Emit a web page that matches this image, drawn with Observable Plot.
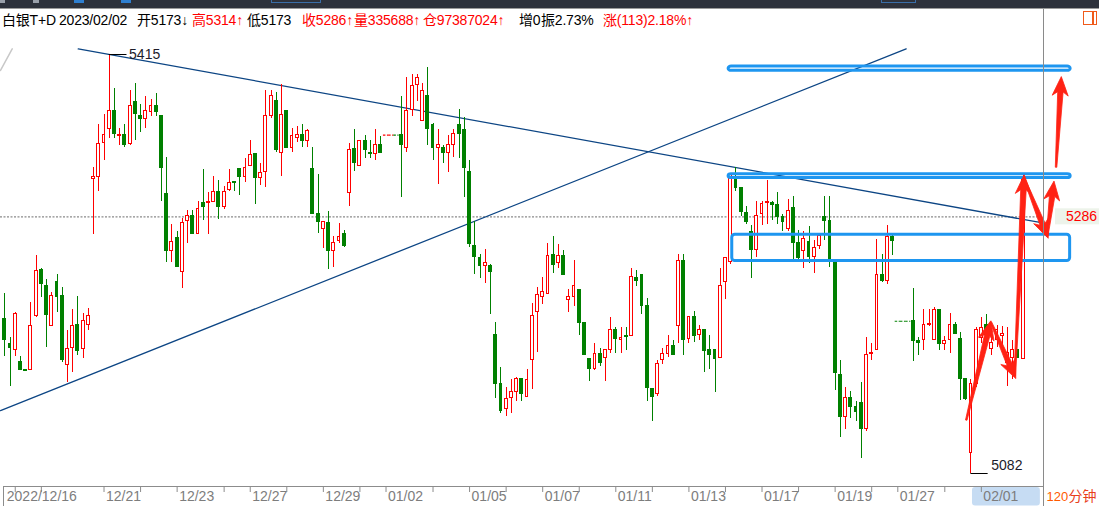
<!DOCTYPE html>
<html><head><meta charset="utf-8">
<script src="https://cdn.jsdelivr.net/npm/d3@7"></script>
<script src="https://cdn.jsdelivr.net/npm/@observablehq/plot@0.6"></script>
<style>
body{margin:0;background:#fff;width:1099px;height:506px;overflow:hidden;position:relative;font-family:"Liberation Sans","Noto Sans CJK SC",Arial,sans-serif;}
#topbar{position:absolute;left:0;top:0;width:1099px;height:8px;background:#2d313b;}
.tb{position:absolute;top:0;height:3px;}
#topline{position:absolute;left:0;top:8px;width:1099px;height:1px;background:#9a9a9a;}
.t{position:absolute;top:10px;height:20px;line-height:20px;font-size:14px;letter-spacing:-0.2px;white-space:nowrap;color:#000;}
.r{color:#ff0000;}
#chart{position:absolute;left:0;top:30px;}
#axis{position:absolute;left:0;top:486px;}
#vline{position:absolute;left:1043px;top:9px;width:1px;height:497px;background:#8a8a8a;z-index:5;}
#icon{position:absolute;left:1083px;top:11px;width:12px;height:12px;border:1.5px solid #f05a1a;}
#icon:after{content:"";position:absolute;left:8px;top:0;width:1.5px;height:12px;background:#f05a1a;}
</style></head><body>
<div id="topbar">
  <div class="tb" style="left:0;width:5px;background:#9aa0aa"></div>
  <div class="tb" style="left:33px;width:6px;background:#9aa0aa"></div>
  <div class="tb" style="left:74px;width:10px;background:#2f7fd0"></div>
  <div class="tb" style="left:121px;width:10px;background:#2f7fd0"></div>
  <div class="tb" style="left:271px;width:48px;border:1px solid #3a6ea8;border-top:none;height:2px"></div>
  <div class="tb" style="left:881px;width:33px;border:1px solid #3a6ea8;border-top:none;height:2px"></div>
</div>
<div id="topline"></div>
<div class="t" style="left:2px">白银T+D</div>
<div class="t" style="left:59px">2023/02/02</div>
<div class="t" style="left:137px">开5173↓</div>
<div class="t r" style="left:192px">高5314↑</div>
<div class="t" style="left:247px">低5173</div>
<div class="t r" style="left:302px">收5286↑</div>
<div class="t r" style="left:354px">量335688↑</div>
<div class="t r" style="left:423px">仓97387024↑</div>
<div class="t" style="left:519px">增0</div>
<div class="t" style="left:541px">振2.73%</div>
<div class="t r" style="left:603px">涨(113)2.18%↑</div>
<div id="icon"></div>
<div id="chart"></div>
<div id="axis"></div>
<div id="vline"></div>
<script>
// ---- 120-minute OHLC bars (null = no-trade slot) ----
const open = [5205,5185,5180,5171,5164,5164,5207,5244,5231,5199,5234,5223,5168,5182,5200,5181,5200,5316,5318,5345,
5356,5370,5350,5351,5344,5377,5366,5364,5369,5374,5366,5304,5259,5269,5242,5283,5287,5272,5297,5297,
5298,5306,5294,5307,5313,5324,5318,5326,5336,5317,5322,5366,5378,5337,5370,5341,5349,5351,5346,5324,
5288,5276,5281,5259,5267,5272,5305,5340,5326,5346,5337,5336,5343,null,null,null,5351,5341,5371,5391,
5362,5382,5359,5341,5341,5337,5343,5359,5355,5322,5263,5253,5247,5247,5192,5153,5133,5142,5147,5157,
5143,5172,5210,5222,5225,5256,5249,5255,5220,5222,5228,5202,5173,5165,5177,5174,5180,5196,5188,5191,
5191,5237,5240,5215,5149,5145,5172,5177,5183,5199,5251,5189,5206,5192,5196,5180,5180,5174,5234,5250,
5316,5309,5289,5274,5260,5288,5297,5297,5295,5286,5276,5293,5265,5259,5266,5254,5263,5286,5283,5249,
5160,5127,5142,5135,5138,5117,5177,5180,5240,5235,5270,null,null,null,5203,5187,5188,5200,5188,5212,
5185,5188,5200,5189,5157,5098,5153,5190,5200,5181,5188,5191,5170,5174,5180,5173];
const high = [5225,5190,5210,5175,5164,5218,5255,5245,5236,5226,5240,5230,5196,5212,5223,5209,5213,5325,5359,5367,
5415,5388,5356,5359,5386,5392,5375,5382,5379,5384,5366,5333,5280,5274,5285,5291,5291,5298,5324,5305,
5318,5315,5310,5324,5313,5324,5332,5347,5336,5328,5386,5386,5385,5391,5370,5356,5358,5359,5355,5341,
5320,5282,5290,5270,5281,5275,5344,5355,5346,5351,5347,5355,5350,null,null,null,5382,5397,5399,5399,
5392,5405,5360,5355,5343,5351,5355,5371,5365,5331,5282,5256,5260,5248,5202,5166,5150,5157,5158,5157,
5165,5217,5230,5238,5265,5270,5264,5259,5228,5251,5228,5202,5173,5185,5181,5180,5206,5198,5198,5198,
5245,5243,5240,5221,5149,5172,5181,5192,5188,5256,5256,5206,5211,5200,5196,5192,5180,5245,5253,5320,
5325,5309,5294,5279,5298,5298,5315,5298,5305,5288,5300,5302,5275,5274,5278,5267,5271,5302,5302,5249,
5172,5150,5147,5139,5154,5190,5185,5268,5256,5279,5273,null,null,null,5229,5190,5212,5212,5214,5212,
5191,5209,5202,5194,5157,5157,5198,5206,5208,5190,5200,5199,5198,5188,5180,5319];
const low = [5175,5151,5175,5164,5163,5164,5206,5222,5182,5199,5210,5170,5154,5162,5176,5173,5196,5272,5306,5331,
5348,5348,5343,5341,5343,5347,5353,5356,5366,5366,5298,5250,5250,5246,5229,5265,5272,5272,5283,5272,
5298,5284,5292,5306,5306,5303,5313,5326,5296,5311,5309,5364,5337,5318,5340,5337,5345,5341,5341,5288,
5273,5261,5244,5246,5265,5262,5294,5322,5326,5332,5332,5331,5336,null,null,null,5301,5337,5366,5378,
5362,5343,5331,5312,5328,5321,5333,5332,5301,5262,5240,5237,5233,5208,5142,5130,5127,5130,5139,5139,
5143,5149,5178,5216,5225,5241,5245,5240,5210,5215,5192,5176,5155,5164,5167,5155,5177,5177,5177,5180,
5191,5231,5208,5139,5123,5143,5169,5174,5176,5185,5176,5185,5186,5188,5162,5165,5146,5174,5220,5248,
5306,5286,5280,5237,5254,5279,5280,5283,5280,5274,5274,5251,5251,5245,5249,5241,5260,5267,5246,5148,
5111,5117,5126,5123,5094,5115,5172,5180,5234,5232,5255,null,null,null,5171,5176,5180,5199,5188,5180,
5180,5177,5193,5140,5140,5082,5150,5185,5186,5176,5182,5183,5151,5157,5174,5173];
const close = [5188,5182,5209,5164,5163.5,5199,5243,5233,5208,5223,5222,5172,5181,5199,5179,5203,5207,5318,5344,5351,
5370,5352,5351,5343,5374,5368,5364,5370,5374,5369,5325,5259,5266,5246,5281,5287,5272,5292,5294,5297.5,
5306,5294,5306,5313,5312.5,5318,5325,5335,5317,5321,5366,5382,5339,5367,5341,5350,5351,5346,5354,5288,
5282,5282,5259,5265,5270,5263,5339,5329,5346,5339,5336,5343,5337,null,null,null,5343,5370,5390,5396,
5386,5356,5341,5343,5337,5343,5352,5352,5325,5264,5254,5247,5249,5242,5153,5132,5141,5147,5157,5145,
5156,5207,5224,5226,5255,5248,5255,5240,5222,5231,5202,5176,5165,5177,5170,5180,5196,5189,5190,5190.5,
5238,5235,5215,5150,5143,5169,5177,5183,5176,5251,5188,5206,5191,5196,5179,5176,5173,5231,5253,5319,
5309,5290,5282,5260,5287,5296,5297.5,5295,5286,5282,5291,5265,5253,5268,5254,5261,5271,5283,5251,5162,
5127,5142,5135,5131,5117,5176,5177.5,5240,5235,5270,5267,null,null,null,5187,5186,5200,5201,5212,5185,
5187,5200,5193,5157,5141,5153,5196,5198,5192,5186,5196,5193,5178,5180,5174,5317];

// no-trade placeholder dashes
const gapIdx = [73, 74, 75, 171, 172, 173];
const gapPrice = [5351, 5351, 5351, 5203, 5203, 5203];
const gapColor = ["red", "red", "green", "green", "green", "green"];

// date axis
const tickIdx = [2, 7, 19, 26, 33, 42, 47, 54, 61, 68, 73, 82, 89, 96, 103, 110, 117, 124, 131, 138, 145, 152, 159, 166, 171, 180, 187];
const labelIdx = [0, 19, 33, 47, 61, 73, 89, 103, 117, 131, 145, 159, 171, 187];
const labelText = ["2022/12/16","12/21","12/23","12/27","12/29","01/02","01/05","01/07","01/11","01/13","01/17","01/19","01/27","02/01"];
const highlightIdx = [185.3, 198.3];

// annotations
const lastPrice = 5286;
const trendAIdx = [14.06, 197.95], trendAPrice = [5419.5, 5281.7];
const trendBIdx = [-0.823, 172.6], trendBPrice = [5132, 5419.5];
const faintIdx = [-0.823, 1.42], faintPrice = [5402.3, 5419.5];
const boxIdx1 = [138.6, 138.6, 139.3], boxIdx2 = [204.1, 204.1, 204.0];
const boxLow = [5402, 5316.8, 5250.8], boxHigh = [5405.5, 5319.8, 5271.8];
const arrowFromIdx = [184.2, 188.9, 193.5, 195.3, 199.7, 201.4];
const arrowFromPrice = [5124, 5202, 5159, 5316, 5270, 5325];
const arrowToIdx = [188.9, 193.7, 195.3, 199.9, 201.0, 202.4];
const arrowToPrice = [5203, 5157, 5319, 5268.5, 5314, 5397];

const RED = "#ff0000", GREEN = "#008000", ARROW = "#ff2214";
const X_DOMAIN = [-0.823, 198.9];
const FONT = "Liberation Sans, Arial, sans-serif";

const bars = [];
open.forEach((o, i) => {
  if (o == null) return;
  const c = close[i];
  let lo = Math.min(o, c), hi = Math.max(o, c);
  if (hi - lo < 0.8) hi = lo + 0.8;
  bars.push({i, o, h: high[i], l: low[i], c, bb: lo, bt: hi, up: c > o});
});
const upBars = bars.filter(d => d.up), downBars = bars.filter(d => !d.up);
const BW = 0.27;

let hiBar = bars[0], loBar = bars[0];
for (const b of bars) { if (b.h > hiBar.h) hiBar = b; if (b.l < loBar.l) loBar = b; }

const gaps = gapIdx.map((g, k) => ({g, p: gapPrice[k], col: gapColor[k] === "red" ? RED : GREEN}));
const boxes = boxLow.map((l, k) => ({x1: boxIdx1[k], x2: boxIdx2[k], y1: l, y2: boxHigh[k]}));
const arrows = arrowFromIdx.map((x, k) => ({x1: x, y1: arrowFromPrice[k], x2: arrowToIdx[k], y2: arrowToPrice[k]}));

const SVGNS = "http://www.w3.org/2000/svg";
// last price label on the right edge, positioned through the y scale
const priceLabel = (index, scales, values, dims) => {
  const y = scales.y(lastPrice);
  const x0 = dims.width - dims.marginRight;
  const g = document.createElementNS(SVGNS, "g");
  g.innerHTML = `<rect x="${x0 + 12}" y="${y - 8}" width="${dims.marginRight - 12}" height="16" fill="#edf3ea"/>` +
    `<text x="${x0 + 23}" y="${y}" dy="0.36em" text-anchor="start" fill="${RED}" font-size="14" font-family="${FONT}">${lastPrice}</text>`;
  return g;
};
// tapered hand-drawn style arrows, positioned through the x/y scales
const taperedArrows = (index, scales) => {
  const g = document.createElementNS(SVGNS, "g");
  for (const a of arrows) {
    const x0 = scales.x(a.x1), y0 = scales.y(a.y1), x1 = scales.x(a.x2), y1 = scales.y(a.y2);
    const dx = x1 - x0, dy = y1 - y0, len = Math.hypot(dx, dy);
    const ux = dx / len, uy = dy / len, nx = -uy, ny = ux;
    const hl = Math.min(19, len * 0.45), hw = 16, w0 = 1.5, w1 = 5.5;
    const bx = x1 - ux * hl, by = y1 - uy * hl;
    const nxk = x1 - ux * hl * 0.8, nyk = y1 - uy * hl * 0.8;
    const pts = [
      [x0 + nx * w0 / 2, y0 + ny * w0 / 2],
      [nxk + nx * w1 / 2, nyk + ny * w1 / 2],
      [bx + nx * hw / 2, by + ny * hw / 2],
      [x1, y1],
      [bx - nx * hw / 2, by - ny * hw / 2],
      [nxk - nx * w1 / 2, nyk - ny * w1 / 2],
      [x0 - nx * w0 / 2, y0 - ny * w0 / 2]
    ];
    const p = document.createElementNS(SVGNS, "polygon");
    p.setAttribute("points", pts.map(q => q[0].toFixed(1) + "," + q[1].toFixed(1)).join(" "));
    p.setAttribute("fill", ARROW);
    p.setAttribute("stroke", ARROW);
    p.setAttribute("stroke-width", "0.8");
    p.setAttribute("stroke-linejoin", "round");
    g.appendChild(p);
  }
  return g;
};

const chart = Plot.plot({
  width: 1099, height: 456,
  marginLeft: 0, marginRight: 56, marginTop: 0, marginBottom: 0,
  x: {domain: X_DOMAIN, range: [0, 1043], axis: null},
  y: {domain: [5082, 5415], range: [443, 24], axis: null},
  style: {fontFamily: FONT, background: "white", overflow: "visible"},
  marks: [
    Plot.line(faintIdx, {x: d => d, y: (d, k) => faintPrice[k], stroke: "#c8c8c8", strokeWidth: 1.5}),
    Plot.ruleY([lastPrice], {stroke: "#8a8a8a", strokeWidth: 1.3, strokeDasharray: "2,1.5"}),
    Plot.line(trendAIdx, {x: d => d, y: (d, k) => trendAPrice[k], stroke: "#0c4584", strokeWidth: 1.3}),
    Plot.line(trendBIdx, {x: d => d, y: (d, k) => trendBPrice[k], stroke: "#0c4584", strokeWidth: 1.3}),
    Plot.ruleY(gaps, {x1: d => d.g - 0.5, x2: d => d.g + 0.5, y: "p", stroke: "col", strokeDasharray: "2.5,1.5", strokeWidth: 1.2}),
    Plot.ruleX(upBars, {x: "i", y1: "l", y2: "h", stroke: RED, strokeWidth: 1, shapeRendering: "crispEdges"}),
    Plot.ruleX(downBars, {x: "i", y1: "l", y2: "h", stroke: GREEN, strokeWidth: 1, shapeRendering: "crispEdges"}),
    Plot.rect(upBars, {x1: d => d.i - BW, x2: d => d.i + BW, y1: "bb", y2: "bt", fill: "white", stroke: RED, strokeWidth: 1, shapeRendering: "crispEdges"}),
    Plot.rect(downBars, {x1: d => d.i - BW, x2: d => d.i + BW, y1: "bb", y2: "bt", fill: GREEN, stroke: GREEN, strokeWidth: 1, shapeRendering: "crispEdges"}),
    Plot.ruleY([hiBar], {x1: d => d.i, x2: d => d.i + 3.4, y: "h", stroke: "#000", strokeWidth: 1}),
    Plot.text([hiBar], {x: d => d.i + 3.8, y: "h", text: d => String(d.h), textAnchor: "start", fontSize: 14, fill: "#1c1c2a"}),
    Plot.ruleY([loBar], {x1: d => d.i, x2: d => d.i + 3.3, y: "l", stroke: "#000", strokeWidth: 1}),
    Plot.text([loBar], {x: d => d.i + 3.9, y: "l", dy: -8, text: d => String(d.l), textAnchor: "start", fontSize: 14, fill: "#1c1c2a"}),
    Plot.rect(boxes, {x1: "x1", x2: "x2", y1: "y1", y2: "y2", fill: "none", stroke: "#1e96f0", strokeWidth: 3, rx: 3}),
    taperedArrows,
    priceLabel
  ]
});
document.getElementById("chart").appendChild(chart);

const labels = labelIdx.map((x, k) => ({x, t: labelText[k]}));
const axis = Plot.plot({
  width: 1099, height: 20,
  marginLeft: 3, marginRight: 56, marginTop: 0, marginBottom: 0,
  x: {domain: X_DOMAIN, range: [0, 1043], axis: null},
  style: {fontFamily: FONT, background: "white", overflow: "visible"},
  marks: [
    Plot.rect([highlightIdx], {x1: d => d[0], x2: d => d[1], fill: "#c6dcf3", rx: 3, insetTop: 1, insetBottom: 0.5}),
    Plot.frame({stroke: "#8c8c8c"}),
    Plot.tickX(tickIdx, {x: d => d, stroke: "#8c8c8c", insetBottom: 14}),
    Plot.text(labels, {x: "x", text: "t", frameAnchor: "middle", textAnchor: "start", dx: 2, fontSize: 14, fill: "#7d7d7d"}),
    Plot.text(["120"], {frameAnchor: "right", text: d => d, textAnchor: "start", dx: 3, fontSize: 13, fill: "#ff5a00"}),
    Plot.text(["分钟"], {frameAnchor: "right", text: d => d, textAnchor: "start", dx: 25, fontSize: 14, fill: "#e8401a", fontFamily: "Noto Sans CJK SC"})
  ]
});
document.getElementById("axis").appendChild(axis);
</script>
</body></html>
